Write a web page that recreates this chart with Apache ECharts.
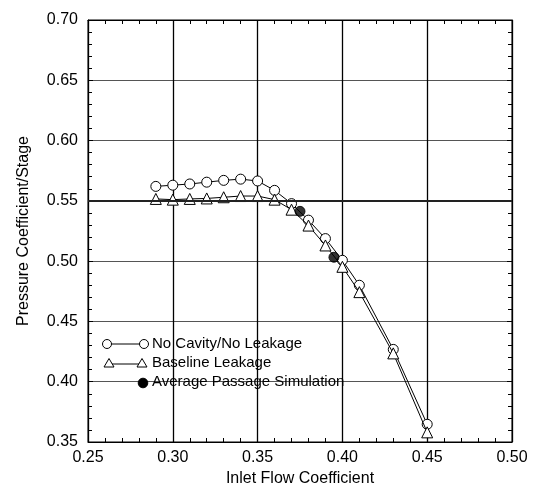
<!DOCTYPE html>
<html>
<head>
<meta charset="utf-8">
<script src="https://cdn.jsdelivr.net/npm/echarts@6/dist/echarts.min.js"></script>
<style>html,body{margin:0;padding:0;background:#fff}#c{width:533px;height:487px}</style>
</head>
<body>
<div id="c"></div>
<script>
var noCavityX = [0.29,0.30,0.31,0.32,0.33,0.34,0.35,0.36,0.37,0.38,0.39,0.40,0.41,0.43,0.45];
var noCavityY = [0.562,0.563,0.564,0.5655,0.567,0.568,0.5665,0.5587,0.5477,0.534,0.5187,0.5007,0.480,0.4268,0.3647];
var baselineX = [0.29,0.30,0.31,0.32,0.33,0.34,0.35,0.36,0.37,0.38,0.39,0.40,0.41,0.43,0.45];
var baselineY = [0.5516,0.551,0.5516,0.552,0.553,0.554,0.554,0.551,0.5427,0.5295,0.513,0.4953,0.4743,0.4235,0.358];
var avgX = [0.375,0.395];
var avgY = [0.5413,0.5032];
var xTicks = [0.25,0.30,0.35,0.40,0.45,0.50];
var yTicks = [0.35,0.40,0.45,0.50,0.55,0.60,0.65,0.70];
var legendNames = ['No Cavity/No Leakage','Baseline Leakage','Average Passage Simulation'];

function pairs(xs, ys){ return xs.map(function(x,i){ return [x, ys[i]]; }); }
var FONT = '"Liberation Sans", Arial, Helvetica, sans-serif';

var chart = echarts.init(document.getElementById('c'), null, {renderer:'canvas'});
var gridL = 88, gridT = 20, gridR = 21, gridB = 45;

var baseX = {
  type:'value', min:xTicks[0], max:xTicks[xTicks.length-1], interval:0.05,
  axisLine:{show:true, lineStyle:{color:'#000', width:1}},
  axisTick:{show:true, inside:true, length:5, lineStyle:{color:'#000'}},
  minorTick:{show:true, splitNumber:5, length:4, lineStyle:{color:'#000'}},
  splitLine:{show:false}
};
var baseY = {
  type:'value', min:yTicks[0], max:yTicks[yTicks.length-1], interval:0.05,
  axisLine:{show:true, lineStyle:{color:'#000', width:1}},
  axisTick:{show:true, inside:true, length:5, lineStyle:{color:'#000'}},
  minorTick:{show:true, splitNumber:5, length:4, lineStyle:{color:'#000'}},
  splitLine:{show:false}
};

var option = {
  animation:false,
  backgroundColor:'#fff',
  grid:{left:gridL, top:gridT, right:gridR, bottom:gridB, show:true, borderColor:'#000', borderWidth:1,
        containLabel:false, outerBoundsMode:'none'},
  xAxis:[
    Object.assign({}, baseX, {
      position:'bottom',
      name:'Inlet Flow Coefficient', nameLocation:'middle', nameGap:28,
      nameTextStyle:{fontFamily:FONT, fontSize:16, color:'#000'},
      axisLabel:{show:true, margin:8, fontFamily:FONT, fontSize:16, color:'#000',
        formatter:function(v){ return v.toFixed(2); }},
      splitLine:{show:true, lineStyle:{color:'#000', width:1.3}}
    }),
    Object.assign({}, baseX, {position:'top', axisLabel:{show:false}})
  ],
  yAxis:[
    Object.assign({}, baseY, {
      position:'left',
      name:'Pressure Coefficient/Stage', nameLocation:'middle', nameGap:56,
      nameTextStyle:{fontFamily:FONT, fontSize:16, color:'#000'},
      axisLabel:{show:true, margin:10, fontFamily:FONT, fontSize:16, color:'#000',
        formatter:function(v){ return v.toFixed(2); }},
      splitLine:{show:true, lineStyle:{color:'#555', width:1}}
    }),
    Object.assign({}, baseY, {position:'right', axisLabel:{show:false}})
  ],
  series:[
    {
      name:legendNames[0], type:'line', xAxisIndex:0, yAxisIndex:0,
      data:pairs(noCavityX, noCavityY),
      symbol:'circle', symbolSize:10,
      lineStyle:{color:'#000', width:1},
      itemStyle:{color:'#fff', borderColor:'#000', borderWidth:1},
      markLine:{silent:true, symbol:'none', label:{show:false},
        lineStyle:{color:'#222', width:2, type:'solid'}, data:[{yAxis:0.55}]},
      z:3
    },
    {
      name:legendNames[1], type:'line', xAxisIndex:0, yAxisIndex:0,
      data:pairs(baselineX, baselineY),
      symbol:'triangle', symbolSize:11,
      lineStyle:{color:'#000', width:1},
      itemStyle:{color:'#fff', borderColor:'#000', borderWidth:1},
      z:4
    },
    {
      name:legendNames[2], type:'scatter', xAxisIndex:0, yAxisIndex:0,
      data:pairs(avgX, avgY),
      symbol:'circle', symbolSize:10,
      itemStyle:{color:'#000', borderColor:'#000', borderWidth:1},
      z:5
    }
  ],
  graphic:[
    {type:'line', shape:{x1:107, y1:344, x2:144, y2:344}, style:{stroke:'#000', lineWidth:1}, z:10},
    {type:'circle', shape:{cx:107, cy:344, r:4.5}, style:{fill:'#fff', stroke:'#000', lineWidth:1}, z:11},
    {type:'circle', shape:{cx:144, cy:344, r:4.5}, style:{fill:'#fff', stroke:'#000', lineWidth:1}, z:11},
    {type:'text', left:152, top:336, style:{text:legendNames[0], font:'15px ' + FONT, fill:'#000'}, z:11},

    {type:'line', shape:{x1:109, y1:364, x2:142, y2:364}, style:{stroke:'#000', lineWidth:1}, z:10},
    {type:'polygon', shape:{points:[[109,358.5],[114,367],[104,367]]}, style:{fill:'#fff', stroke:'#000', lineWidth:1}, z:11},
    {type:'polygon', shape:{points:[[142,358.5],[147,367],[137,367]]}, style:{fill:'#fff', stroke:'#000', lineWidth:1}, z:11},
    {type:'text', left:152, top:355, style:{text:legendNames[1], font:'15px ' + FONT, fill:'#000'}, z:11},

    {type:'circle', shape:{cx:143, cy:383, r:4.8}, style:{fill:'#000', stroke:'#000', lineWidth:1}, z:11},
    {type:'text', left:152, top:374, style:{text:legendNames[2], font:'15px ' + FONT, fill:'#000'}, z:11}
  ]
};
chart.setOption(option);
</script>
</body>
</html>
